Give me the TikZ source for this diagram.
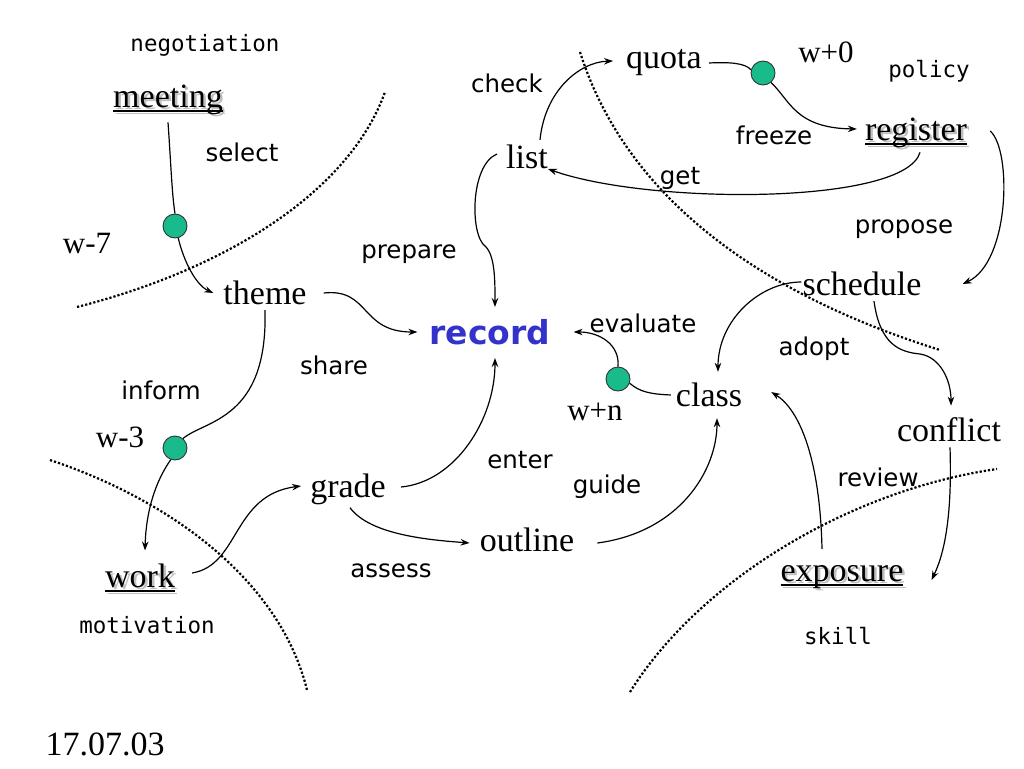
\documentclass[tikz,border=0pt]{standalone}
\usepackage{fontspec}
\setmainfont{Liberation Serif}
\setsansfont{DejaVu Sans}
\setmonofont{DejaVu Sans Mono}
\usetikzlibrary{arrows.meta}
\definecolor{dotgreen}{RGB}{25,187,140}
\definecolor{recblue}{RGB}{51,51,204}
\newcommand\ulone[1]{\leavevmode\setbox0\hbox{#1}\rlap{\rule[-4.5pt]{\wd0}{1.6pt}}\box0}
\newcommand\shd[1]{\rlap{\kern2.5pt\raisebox{-2.5pt}{\color{black!25}\ulone{#1}}}\ulone{#1}}
\tikzset{
  term/.style={inner sep=5pt,font=\fontsize{34}{37}\selectfont},
  keyterm/.style={inner sep=5pt,font=\fontsize{34}{37}\selectfont},
  lbl/.style={inner sep=2pt,font=\sffamily\fontsize{24.5}{27}\selectfont},
  mono/.style={inner sep=2pt,font=\ttfamily\fontsize{22.5}{25}\selectfont},
  wlbl/.style={inner sep=2pt,font=\fontsize{31}{34}\selectfont},
  gdot/.style={circle,draw=black!80,line width=0.9pt,fill=dotgreen,minimum size=24pt,inner sep=0pt},
  conn/.style={line width=1.2pt},
  arr/.style={line width=1.2pt,-{Stealth[length=9pt,width=6.5pt]}},
  border/.style={line width=2.2pt,dash pattern=on 2.2pt off 2pt},
}
\begin{document}
\begin{tikzpicture}[x=1pt,y=-1pt]
\useasboundingbox (0,0) rectangle (1024,768);
% borders
\draw[border] (77,307) .. controls (230,268) and (350,190) .. (385,92);
\draw[border] (50,460) .. controls (170,500) and (280,580) .. (307,690);
\draw[border] (580,52) .. controls (630,210) and (780,300) .. (940,350);
\draw[border] (630,692) .. controls (700,580) and (850,490) .. (997,469);
% nodes
\node[mono] (negotiation) at (205,45) {negotiation};
\node[keyterm] (meeting) at (168,101) {\shd{meeting}};
\node[lbl] (select) at (242,152) {select};
\node[wlbl] (w7) at (87,243) {w-7};
\node[gdot] (c1) at (175,226) {};
\node[term] (theme) at (265,293) {theme};
\node[lbl] (prepare) at (409,254) {prepare};
\node[inner sep=5pt,font=\sffamily\bfseries\fontsize{33}{36}\selectfont,text=recblue] (record) at (490,332) {record};
\node[lbl] (share) at (334,365) {share};
\node[lbl] (inform) at (161,390) {inform};
\node[wlbl] (w3) at (120,437) {w-3};
\node[gdot] (c2) at (175,448) {};
\node[term] (grade) at (348,489) {grade};
\node[lbl] (enter) at (520,460) {enter};
\node[lbl] (guide) at (607,487) {guide};
\node[term] (outline) at (527,540) {outline};
\node[lbl] (assess) at (391,571) {assess};
\node[keyterm] (work) at (140,579) {\shd{work}};
\node[mono] (motivation) at (147,625) {motivation};
\node[term] (list) at (527,157) {list};
\node[lbl] (check) at (507,83) {check};
\node[term] (quota) at (664,63) {quota};
\node[gdot] (c3) at (763,73) {};
\node[wlbl] (w0) at (826,52) {w+0};
\node[mono] (policy) at (929,71) {policy};
\node[lbl] (freeze) at (774,135) {freeze};
\node[keyterm] (register) at (916,134) {\shd{register}};
\node[lbl] (get) at (680,178) {get};
\node[lbl] (propose) at (904,229) {propose};
\node[term] (schedule) at (862,284) {schedule};
\node[lbl] (evaluate) at (643,323) {evaluate};
\node[lbl] (adopt) at (814,349) {adopt};
\node[gdot] (c4) at (618,379) {};
\node[wlbl] (wn) at (595,412) {w+n};
\node[term] (class) at (709,395) {class};
\node[term] (conflict) at (949,430) {conflict};
\node[lbl] (review) at (878,477) {review};
\node[keyterm] (exposure) at (842,578) {\shd{exposure}};
\node[mono] (skill) at (838,636) {skill};
\node[inner sep=2pt,font=\fontsize{34}{37}\selectfont] (date) at (105,744) {17.07.03};
% connectors
\draw[conn] (meeting.south) .. controls (171,165) and (172,195) .. (c1.north);
\draw[arr] (c1.-75) .. controls (184,262) and (196,285) .. ([xshift=-5pt]theme.west);
\draw[arr] ([xshift=12pt]theme.east) .. controls (370,288) and (360,332) .. ([xshift=-7pt]record.west);
\draw[conn] (theme.south) .. controls (268,420) and (205,420) .. (c2.50);
\draw[arr] (c2.-110) .. controls (155,482) and (146,512) .. ([xshift=5pt,yshift=8pt]work.north);
\draw[arr] ([xshift=12pt,yshift=6pt]work.east) .. controls (240,565) and (232,495) .. ([xshift=-4pt,yshift=3pt]grade.west);
\draw[arr] ([xshift=10pt,yshift=2pt]grade.east) .. controls (455,482) and (495,420) .. ([xshift=5pt,yshift=-8pt]record.south);
\draw[arr] ([xshift=2pt,yshift=2pt]grade.south) .. controls (370,535) and (430,540) .. ([xshift=-5pt,yshift=-3pt]outline.west);
\draw[arr] ([xshift=18pt,yshift=-3pt]outline.east) .. controls (680,532) and (717,470) .. ([xshift=8pt,yshift=-6pt]class.south);
\draw[conn] (class.west) .. controls (650,394) and (640,392) .. (c4.-20);
\draw[arr] (c4.north) .. controls (620,345) and (600,332) .. ([xshift=18pt]record.east);
\draw[arr] ([xshift=-4pt,yshift=3pt]list.west) .. controls (470,165) and (470,235) .. (485,246) .. controls (495,255) and (495,280) .. ([xshift=5pt,yshift=7pt]record.north);
\draw[arr] ([xshift=13pt]list.north) .. controls (545,90) and (580,62) .. ([xshift=-8pt,yshift=2pt]quota.west);
\draw[conn] ([xshift=2pt]quota.east) .. controls (730,62) and (745,63) .. (c3.165);
\draw[arr] (c3.-50) .. controls (790,100) and (795,128) .. ([xshift=-3pt,yshift=5pt]register.west);
\draw[arr] ([xshift=4pt,yshift=3pt]register.south) .. controls (905,205) and (650,205) .. ([xshift=-5pt,yshift=-12pt]list.east);
\draw[arr] ([xshift=18pt,yshift=3pt]register.east) .. controls (1012,150) and (1010,262) .. ([xshift=36pt]schedule.east);
\draw[arr] ([xshift=4pt,yshift=2pt]schedule.west) .. controls (760,282) and (718,320) .. ([xshift=9pt,yshift=6pt]class.north);
\draw[arr] ([xshift=12pt]schedule.south) .. controls (880,345) and (900,352) .. (920,354) .. controls (940,357) and (951,380) .. ([xshift=2pt,yshift=7pt]conflict.north);
\draw[arr] ([xshift=1pt]conflict.south) .. controls (952,510) and (946,550) .. ([xshift=23pt,yshift=-2pt]exposure.east);
\draw[arr] ([xshift=-20pt,yshift=11pt]exposure.north) .. controls (820,460) and (800,410) .. ([xshift=24pt,yshift=3pt]class.east);
\end{tikzpicture}
\end{document}
